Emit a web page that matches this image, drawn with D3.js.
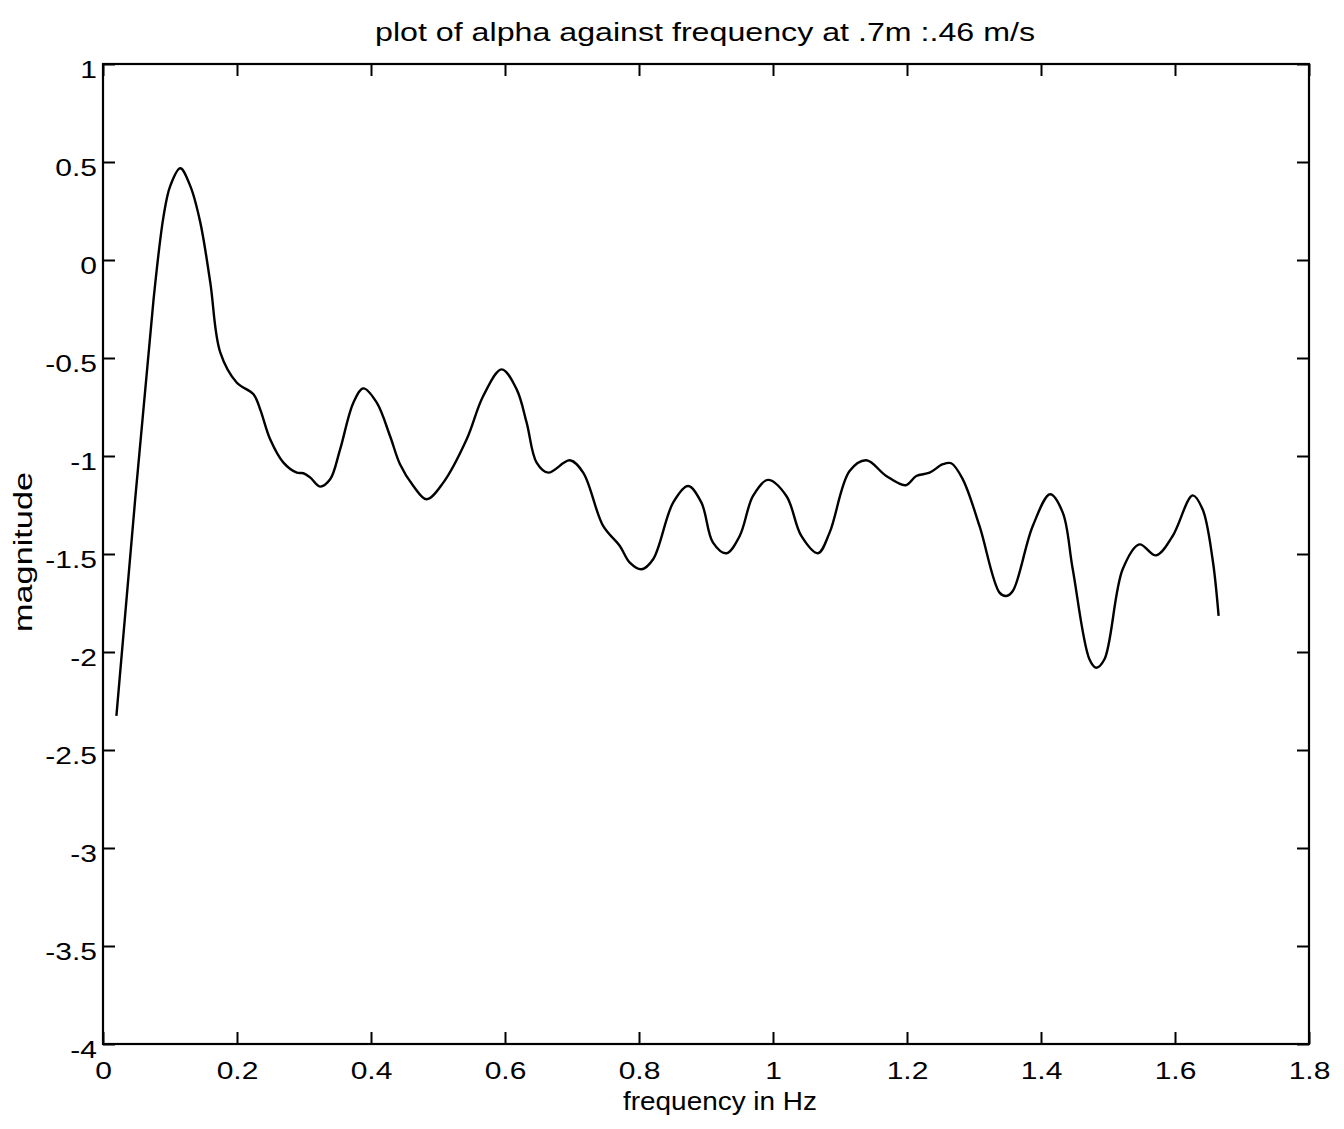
<!DOCTYPE html>
<html>
<head>
<meta charset="utf-8">
<script src="https://cdn.jsdelivr.net/npm/d3@7"></script>
<style>
  html, body { margin: 0; padding: 0; background: #fff; }
  svg { display: block; }
  text { font-family: "Liberation Sans", Arial, Helvetica, sans-serif; fill: #000; }
</style>
</head>
<body>
<svg id="chart" width="1344" height="1129"></svg>
<script>
// ---- data ----
const title = "plot of alpha against frequency at .7m :.46 m/s";
const xLabel = "frequency in Hz";
const yLabel = "magnitude";
const xTicks = [0, 0.2, 0.4, 0.6, 0.8, 1, 1.2, 1.4, 1.6, 1.8];
const yTicks = [1, 0.5, 0, -0.5, -1, -1.5, -2, -2.5, -3, -3.5, -4];
const freq = [0.020,0.0755,0.0904,0.1004,0.1153,0.1302,0.1452,0.1601,0.1750,0.1998,
  0.2246,0.2346,0.2495,0.2693,0.2893,0.2991,0.3091,0.3240,0.3390,0.3539,
  0.3737,0.3886,0.4086,0.4284,0.4433,0.4632,0.4831,0.5079,0.5428,0.5675,
  0.5950,0.6174,0.6323,0.6472,0.6645,0.6968,0.7167,0.7465,0.7714,0.7863,
  0.8038,0.8211,0.8509,0.8733,0.8932,0.9105,0.9305,0.9503,0.9702,0.9925,
  1.0200,1.0423,1.0671,1.0845,1.1143,1.1393,1.1691,1.1979,1.2138,1.2337,
  1.2535,1.2660,1.2833,1.3082,1.3381,1.3481,1.3579,1.3877,1.4137,1.4325,
  1.4474,1.4723,1.4823,1.4947,1.5219,1.5468,1.5717,1.5965,1.6263,1.6412,
  1.6561,1.6651];
const magnitude = [-2.326,-0.200,0.224,0.378,0.468,0.378,0.192,-0.114,-0.471,-0.626,
  -0.685,-0.762,-0.915,-1.034,-1.085,-1.088,-1.109,-1.156,-1.119,-0.966,
  -0.728,-0.655,-0.728,-0.898,-1.042,-1.153,-1.221,-1.136,-0.915,-0.694,
  -0.558,-0.660,-0.830,-1.034,-1.085,-1.022,-1.085,-1.357,-1.459,-1.544,
  -1.578,-1.527,-1.238,-1.153,-1.238,-1.442,-1.496,-1.408,-1.204,-1.122,
  -1.204,-1.408,-1.496,-1.391,-1.077,-1.022,-1.102,-1.149,-1.102,-1.085,
  -1.042,-1.037,-1.119,-1.357,-1.697,-1.714,-1.689,-1.357,-1.195,-1.289,
  -1.578,-2.037,-2.080,-2.037,-1.578,-1.451,-1.507,-1.408,-1.201,-1.272,
  -1.527,-1.816];

// ---- layout ----
const plotL = 103, plotT = 64, plotR = 1309, plotB = 1044;
const svg = d3.select("#chart");
const x = d3.scaleLinear().domain([0, 1.8]).range([plotL, plotR]);
const y = d3.scaleLinear().domain([-4, 1]).range([plotB, plotT]);
const fmt = d => String(+(+d).toFixed(2));
const stretch = 1.25;

function widen(sel, k) {
  sel.each(function () {
    const n = this.getComputedTextLength();
    this.setAttribute("textLength", n * k);
    this.setAttribute("lengthAdjust", "spacingAndGlyphs");
  });
}

// box
svg.append("rect")
  .attr("x", plotL).attr("y", plotT)
  .attr("width", plotR - plotL).attr("height", plotB - plotT)
  .attr("fill", "none").attr("stroke", "#000").attr("stroke-width", 2.2);

const tickLen = 12;
const gb = svg.append("g").attr("transform", `translate(0,${plotB})`)
  .call(d3.axisBottom(x).tickValues(xTicks).tickFormat(fmt).tickSizeInner(-tickLen).tickSizeOuter(0));
const gt = svg.append("g").attr("transform", `translate(0,${plotT})`)
  .call(d3.axisTop(x).tickValues(xTicks).tickFormat("").tickSizeInner(-tickLen).tickSizeOuter(0));
const gl = svg.append("g").attr("transform", `translate(${plotL},0)`)
  .call(d3.axisLeft(y).tickValues(yTicks).tickFormat(fmt).tickSizeInner(-tickLen).tickSizeOuter(0));
const gr = svg.append("g").attr("transform", `translate(${plotR},0)`)
  .call(d3.axisRight(y).tickValues(yTicks).tickFormat("").tickSizeInner(-tickLen).tickSizeOuter(0));

[gb, gt, gl, gr].forEach(g => {
  g.select(".domain").remove();
  g.selectAll(".tick line").attr("stroke", "#000").attr("stroke-width", 2);
});

gb.selectAll(".tick text")
  .attr("y", 35).attr("dy", null)
  .attr("font-size", 24).attr("font-family", null)
  .attr("text-anchor", "middle");
gl.selectAll(".tick text")
  .attr("x", -6).attr("dy", null).attr("y", 13)
  .attr("font-size", 24).attr("font-family", null)
  .attr("text-anchor", "end");
widen(gb.selectAll(".tick text"), stretch);
widen(gl.selectAll(".tick text"), stretch);

// line
const pts = freq.map((f, i) => [f, magnitude[i]]);
svg.append("path")
  .datum(pts)
  .attr("fill", "none")
  .attr("stroke", "#000")
  .attr("stroke-width", 2.4)
  .attr("stroke-linejoin", "round")
  .attr("d", d3.line().x(d => x(d[0])).y(d => y(d[1])).curve(d3.curveCatmullRom.alpha(0.5)));

// title & labels
svg.append("text")
  .attr("x", 705).attr("y", 41)
  .attr("text-anchor", "middle").attr("font-size", 26)
  .attr("textLength", 660).attr("lengthAdjust", "spacingAndGlyphs")
  .text(title);
svg.append("text")
  .attr("x", 720).attr("y", 1110)
  .attr("text-anchor", "middle").attr("font-size", 26)
  .attr("textLength", 194).attr("lengthAdjust", "spacingAndGlyphs")
  .text(xLabel);
svg.append("text")
  .attr("transform", "translate(32,552) rotate(-90)")
  .attr("text-anchor", "middle").attr("font-size", 26)
  .attr("textLength", 160).attr("lengthAdjust", "spacingAndGlyphs")
  .text(yLabel);
</script>
</body>
</html>
